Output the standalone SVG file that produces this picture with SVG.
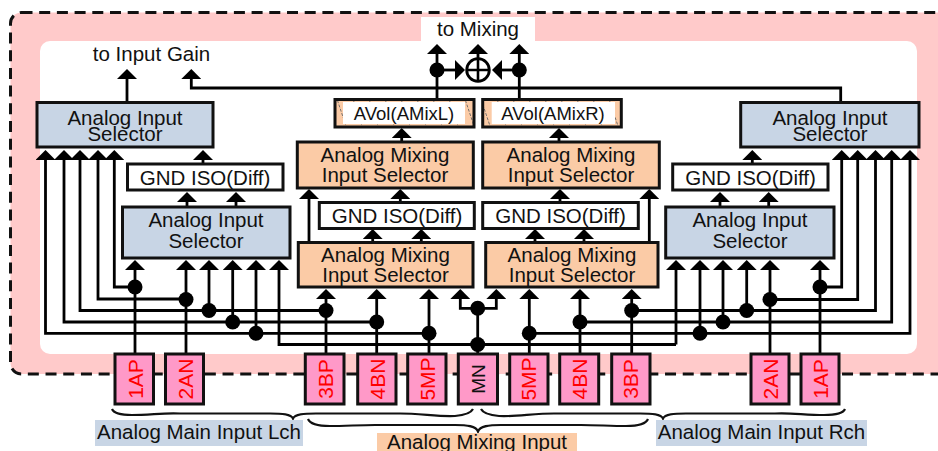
<svg xmlns="http://www.w3.org/2000/svg" width="938" height="451" viewBox="0 0 938 451">
<style>
text{font-family:"Liberation Sans",Arial,sans-serif;font-size:20.5px;fill:#111;text-anchor:middle}
.bx{stroke:#111;stroke-width:3;stroke-linejoin:miter}
.blue{fill:#c8d5e5}.or{fill:#fbcba6}.wh{fill:#fff}.pk{fill:#ff99c8}
.pin{fill:#f00;font-size:21px}
.c{fill:none;stroke:#000;stroke-width:2.8}
.a{marker-end:url(#ah)}
.d{fill:#000}
.b{fill:none;stroke:#111;stroke-width:2.2}
.av{font-size:18.500px}
</style>
<defs>
<marker id="ah" markerUnits="userSpaceOnUse" viewBox="0 0 10 20" refX="0" refY="10" markerWidth="10" markerHeight="20" orient="auto"><path d="M0 0L10 10L0 20Z" fill="#000"/></marker>
<pattern id="hatch" patternUnits="userSpaceOnUse" width="16" height="32"><rect width="16" height="32" fill="#fbcba6"/><path d="M0 0L16 48M-16 0L0 48M0 -32L16 16" stroke="#666" stroke-width="0.9" stroke-dasharray="3 1.500" fill="none"/></pattern>
</defs>
<rect x="10.500" y="12.500" width="950" height="361.500" rx="11" fill="#ffcaca" stroke="#111" stroke-width="3" stroke-dasharray="11 6.700"/>
<rect x="40" y="41" width="877" height="313" rx="10" fill="#fff"/>
<rect x="421" y="17" width="114" height="24" fill="#fff"/>
<g id="connectors">
<path class="c a" d="M127 102V79"/>
<path class="c a" d="M840.700 102V88H191.300V79"/>
<path class="c a" d="M437 99V54"/>
<path class="c a" d="M519.300 99V54"/>
<path class="c a" d="M478 60V54"/>
<path class="c a" d="M437 70H455"/>
<path class="c a" d="M519.300 70H502"/>
<path class="c a" d="M203 164V160"/><path class="c a" d="M752.300 164V160"/>
<path class="c a" d="M187 207V202"/><path class="c a" d="M236 207V202"/>
<path class="c a" d="M720 207V202"/><path class="c a" d="M768.700 207V202"/>
<path class="c a" d="M401.700 142V138"/><path class="c a" d="M559 142V138"/>
<path class="c a" d="M400.300 202V199"/><path class="c a" d="M560 202V199"/>
<path class="c a" d="M372.700 242V239"/><path class="c a" d="M421.300 242V239"/>
<path class="c a" d="M535 242V239"/><path class="c a" d="M584 242V239"/>
<path class="c a" d="M309 242V199"/><path class="c a" d="M649.300 242V199"/>
<path class="c a" d="M135 287H114.300V160"/>
<path class="c a" d="M186 299H98V160"/>
<path class="c a" d="M326 310.500H80V160"/>
<path class="c a" d="M377 322H64V160"/>
<path class="c a" d="M429 333.300H45.500V160"/>
<path class="c a" d="M820 287H841.700V160"/>
<path class="c a" d="M770 299.500H857.700V160"/>
<path class="c a" d="M632 310.500H875.500V160"/>
<path class="c a" d="M580 322H891.700V160"/>
<path class="c a" d="M529 333.300H910V160"/>
<path class="c a" d="M135 354V270"/><path class="c a" d="M186 354V270"/>
<path class="c a" d="M209 310.500V270"/><path class="c a" d="M232.700 322V270"/><path class="c a" d="M256 333.300V270"/>
<path class="c a" d="M676 344.500H279V270"/>
<path class="c a" d="M676 344.500V270"/>
<path class="c a" d="M700 333.300V270"/><path class="c a" d="M723 322V270"/><path class="c a" d="M746.700 310.500V270"/>
<path class="c a" d="M770 354V270"/><path class="c a" d="M820 354V270"/>
<path class="c a" d="M326 354V299"/><path class="c a" d="M376.700 354V299"/><path class="c a" d="M429 354V299"/>
<path class="c a" d="M529.300 354V299"/><path class="c a" d="M580 354V299"/><path class="c a" d="M631.700 354V299"/>
<path class="c" d="M477.700 354V308.300"/>
<path class="c a" d="M477.700 308.300H460.300V299"/>
<path class="c a" d="M477.700 308.300H496.300V299"/>
<g class="d">
<circle cx="437" cy="70" r="7.500"/><circle cx="519.300" cy="70" r="7.500"/>
<circle cx="135" cy="287" r="7.500"/><circle cx="186" cy="299.500" r="7.500"/><circle cx="209" cy="310.500" r="7.500"/><circle cx="232.700" cy="322" r="7.500"/><circle cx="256" cy="333.300" r="7.500"/>
<circle cx="326" cy="310.500" r="7.500"/><circle cx="376.700" cy="322" r="7.500"/><circle cx="429" cy="333.300" r="7.500"/>
<circle cx="477.700" cy="308.300" r="7.500"/><circle cx="477.700" cy="344.500" r="7.500"/>
<circle cx="529.300" cy="333.300" r="7.500"/><circle cx="580" cy="322" r="7.500"/><circle cx="631.700" cy="310.500" r="7.500"/>
<circle cx="700" cy="333.300" r="7.500"/><circle cx="723" cy="322" r="7.500"/><circle cx="746.700" cy="310.500" r="7.500"/><circle cx="770" cy="299.500" r="7.500"/><circle cx="820" cy="287" r="7.500"/>
</g>
<g id="braces">
<path class="b" d="M112 409C114 414 122 415 132 415C150 415 165 412.500 180 413.500H270C282 413.500 291 414 293 418.500C295 414 304 413.500 316 413.500H400C420 413.500 440 417 455 416C466 415 471 413 473 409"/>
<path class="b" d="M481 409C483 413 488 415 499 416C514 417 534 413.500 554 413.500H640C652 413.500 661 414 663 418.500C665 414 674 413.500 686 413.500H775C790 412.500 805 415 824 415C834 415 843 414 845 409"/>
<path class="b" d="M308 419C310 424 318 426 330 426C345 426 360 425 375 425H455C467 425 476 426 478 431.500C480 426 489 425 501 425H581C596 425 611 426 626 426C638 426 646 424 648 419"/>
</g>
</g>
<g id="sum"><circle cx="478" cy="70" r="11.300" fill="#fff" stroke="#000" stroke-width="2.800"/><path d="M478 60V80M468 70H488" stroke="#000" stroke-width="2.600" fill="none"/></g>
<g id="sel-l-top"><rect class="bx blue" x="37" y="102.500" width="176" height="44.500"/><text x="125" y="124.500">Analog Input</text><text x="125" y="141">Selector</text></g>
<g id="iso-l"><rect class="bx wh" x="127.500" y="164" width="155.500" height="26"/><text x="205" y="184.500">GND ISO(Diff)</text></g>
<g id="sel-l"><rect class="bx blue" x="122.500" y="207" width="167.500" height="51"/><text x="206" y="227">Analog Input</text><text x="206" y="248">Selector</text></g>
<g id="avol-l"><rect class="bx" fill="url(#hatch)" x="335" y="99.500" width="139" height="27.500"/><rect x="343" y="102" width="122" height="22" fill="#fff"/><text class="av" x="404" y="119.500">AVol(AMixL)</text></g>
<g id="avol-r"><rect class="bx" fill="url(#hatch)" x="482.700" y="99.500" width="138.600" height="27.500"/><rect x="491.700" y="102" width="123.300" height="22" fill="#fff"/><text class="av" x="553" y="119.500">AVol(AMixR)</text></g>
<g id="mix-l-top"><rect class="bx or" x="297.300" y="142" width="176" height="46"/><text x="385" y="162">Analog Mixing</text><text x="385" y="182">Input Selector</text></g>
<g id="mix-r-top"><rect class="bx or" x="482.700" y="142" width="176.600" height="46"/><text x="571" y="162">Analog Mixing</text><text x="571" y="182">Input Selector</text></g>
<g id="iso-ml"><rect class="bx wh" x="319.300" y="202.500" width="155" height="26"/><text x="397" y="223">GND ISO(Diff)</text></g>
<g id="iso-mr"><rect class="bx wh" x="482.700" y="202.500" width="155.600" height="26"/><text x="560.500" y="223">GND ISO(Diff)</text></g>
<g id="mix-l"><rect class="bx or" x="298.300" y="242.500" width="174.700" height="44.500"/><text x="385.500" y="262">Analog Mixing</text><text x="385.500" y="282">Input Selector</text></g>
<g id="mix-r"><rect class="bx or" x="485.700" y="242.500" width="172.300" height="44.500"/><text x="572" y="262">Analog Mixing</text><text x="572" y="282">Input Selector</text></g>
<g id="sel-r-top"><rect class="bx blue" x="740.700" y="102.500" width="178.300" height="44.500"/><text x="830" y="124.500">Analog Input</text><text x="830" y="141">Selector</text></g>
<g id="iso-r"><rect class="bx wh" x="672.700" y="164" width="155.300" height="26"/><text x="750.500" y="184.500">GND ISO(Diff)</text></g>
<g id="sel-r"><rect class="bx blue" x="665.700" y="207" width="168.300" height="51"/><text x="750" y="227">Analog Input</text><text x="750" y="248">Selector</text></g>
<g id="pin-1ap-l"><rect class="bx pk" x="115" y="354" width="38.500" height="50"/><text class="pin" transform="translate(142.500 379) rotate(-90)">1AP</text></g>
<g id="pin-2an-l"><rect class="bx pk" x="165.500" y="354" width="38" height="50"/><text class="pin" transform="translate(192.500 379) rotate(-90)">2AN</text></g>
<g id="pin-3bp-l"><rect class="bx pk" x="305.300" y="354" width="38.700" height="50"/><text class="pin" transform="translate(332.500 379) rotate(-90)">3BP</text></g>
<g id="pin-4bn-l"><rect class="bx pk" x="357.700" y="354" width="38.300" height="50"/><text class="pin" transform="translate(385 379) rotate(-90)">4BN</text></g>
<g id="pin-5mp-l"><rect class="bx pk" x="407.700" y="354" width="38.300" height="50"/><text class="pin" transform="translate(435 379) rotate(-90)">5MP</text></g>
<g id="pin-mn"><rect class="bx pk" x="458.300" y="354" width="39.200" height="50"/><text class="pin" style="fill:#111;font-size:19px" transform="translate(484.500 379) rotate(-90)">MN</text></g>
<g id="pin-5mp-r"><rect class="bx pk" x="509.700" y="354" width="38.300" height="50"/><text class="pin" transform="translate(535.500 379) rotate(-90)">5MP</text></g>
<g id="pin-4bn-r"><rect class="bx pk" x="559.700" y="354" width="39" height="50"/><text class="pin" transform="translate(587 379) rotate(-90)">4BN</text></g>
<g id="pin-3bp-r"><rect class="bx pk" x="611.700" y="354" width="38.300" height="50"/><text class="pin" transform="translate(638 379) rotate(-90)">3BP</text></g>
<g id="pin-2an-r"><rect class="bx pk" x="751" y="354" width="38" height="50"/><text class="pin" transform="translate(778 379) rotate(-90)">2AN</text></g>
<g id="pin-1ap-r"><rect class="bx pk" x="801" y="354" width="38" height="50"/><text class="pin" transform="translate(828 379) rotate(-90)">1AP</text></g>
<g id="label-gain"><text x="151.500" y="61">to Input Gain</text></g>
<g id="label-mixing"><text x="478" y="36">to Mixing</text></g>
<g id="label-lch"><rect class="blue" x="95" y="420" width="208" height="26"/><text x="199" y="439">Analog Main Input Lch</text></g>
<g id="label-mix"><rect class="or" x="377" y="433" width="200" height="18"/><text x="477" y="449">Analog Mixing Input</text></g>
<g id="label-rch"><rect class="blue" x="656" y="420" width="211" height="26"/><text x="761.500" y="439">Analog Main Input Rch</text></g>
</svg>
